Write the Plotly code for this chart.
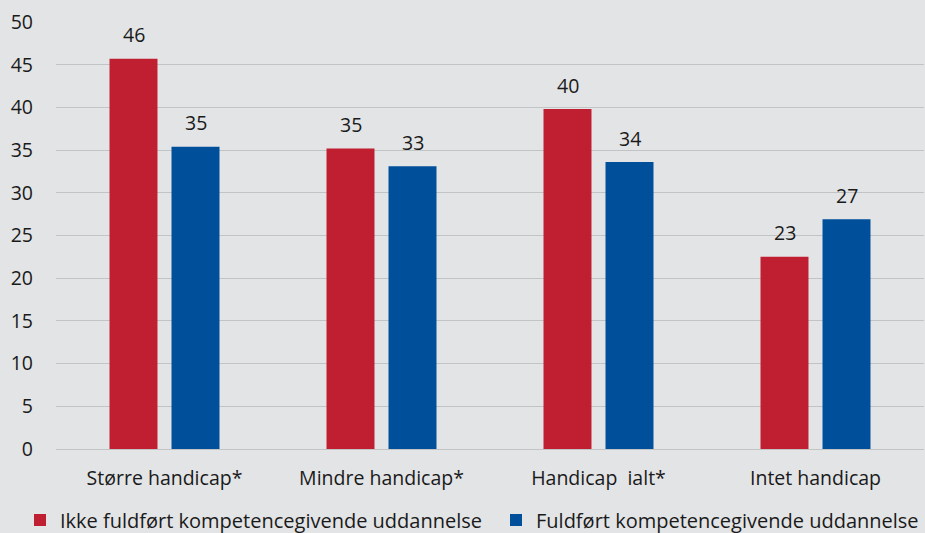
import plotly.graph_objects as go

categories = ["Større handicap*", "Mindre handicap*", "Handicap  ialt*", "Intet handicap"]
series_names = ["Ikke fuldført kompetencegivende uddannelse", "Fuldført kompetencegivende uddannelse"]
not_completed = [45.7, 35.2, 39.8, 22.5]
completed = [35.4, 33.1, 33.6, 26.9]
y_ticks = [0, 5, 10, 15, 20, 25, 30, 35, 40, 45, 50]

RED = "#c01f32"
BLUE = "#004f9a"
BG = "#e3e4e6"
FONT = "Open Sans"
TXT = "#1a1a1a"
FS = 19.5
LFS = 20

fig = go.Figure()
fig.add_trace(go.Bar(x=categories, y=not_completed, name=series_names[0],
                     marker=dict(color=RED, line=dict(width=0)), legend="legend"))
fig.add_trace(go.Bar(x=categories, y=completed, name=series_names[1],
                     marker=dict(color=BLUE, line=dict(width=0)), legend="legend2"))

annotations = []
for vals, shift in ((not_completed, -31), (completed, 31)):
    for c, v in zip(categories, vals):
        annotations.append(dict(x=c, y=v, xref="x", yref="y", text=str(int(v + 0.5)),
                                showarrow=False, xshift=shift, yshift=24,
                                font=dict(family=FONT, size=FS, color=TXT)))

legend_common = dict(orientation="h", xref="container", yref="container",
                     xanchor="left", yanchor="middle",
                     font=dict(family=FONT, size=LFS, color=TXT),
                     bgcolor="rgba(0,0,0,0)")

fig.update_layout(
    width=925, height=533,
    paper_bgcolor=BG, plot_bgcolor=BG,
    margin=dict(l=56, r=1, t=22, b=84, autoexpand=False),
    font=dict(family=FONT, size=FS, color=TXT),
    barmode="group", bargap=0.4286, bargroupgap=0.226,
    showlegend=True,
    legend=dict(x=20 / 925, y=13 / 533, **legend_common),
    legend2=dict(x=496 / 925, y=13 / 533, **legend_common),
    annotations=annotations,
)
fig.update_xaxes(showgrid=False, ticks="", showline=False, ticklabelstandoff=15,
                 tickfont=dict(family=FONT, size=FS, color=TXT))
fig.update_yaxes(range=[0, 50], tickvals=y_ticks, showgrid=True, gridcolor="#c2c3c5",
                 gridwidth=1.3, zeroline=True, zerolinecolor="#c2c3c5", zerolinewidth=1.3,
                 showline=False, ticks="", ticklabelstandoff=22,
                 tickfont=dict(family=FONT, size=FS, color=TXT))

fig.write_html("out.html", config={"displayModeBar": False},
               post_script="document.body.style.margin='0';document.body.style.overflow='hidden';")
